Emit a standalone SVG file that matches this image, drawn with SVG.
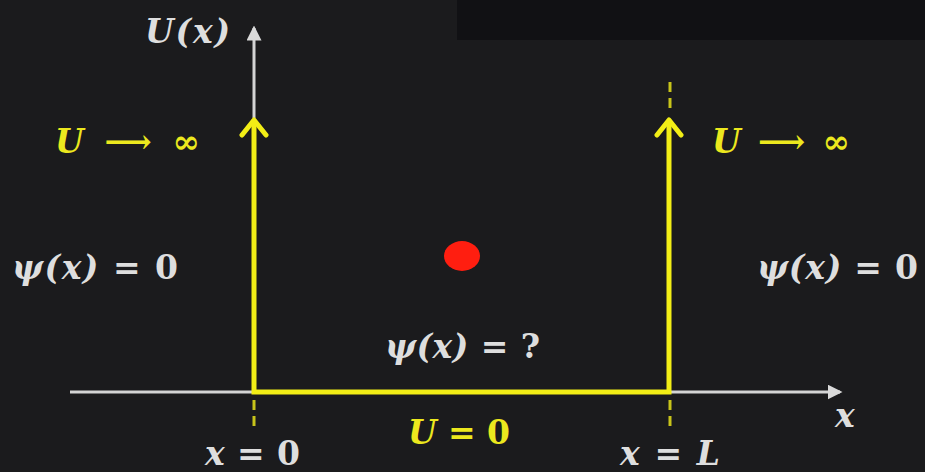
<svg xmlns="http://www.w3.org/2000/svg" width="925" height="472" viewBox="0 0 925 472">
<defs>
<style>
.t{font-family:"DejaVu Serif","Liberation Serif",serif;font-style:italic;font-weight:bold;font-size:33px;fill:#dedede}
.n{font-style:normal}
.y{fill:#ece81e}
.ax{stroke:#d4d4d4;stroke-width:3;fill:none}
.wall{stroke:#f2ee16;stroke-width:5;fill:none}
.dash{stroke:#c8c41a;stroke-width:3;stroke-dasharray:10 6;fill:none}
</style>
<marker id="wa" viewBox="0 0 12 12" refX="10" refY="6" markerWidth="5" markerHeight="5" orient="auto" markerUnits="strokeWidth"><path d="M0,0 L12,6 L0,12 Z" fill="#dadada"/></marker>
</defs>
<rect width="925" height="472" fill="#1b1b1d"/>
<rect x="457" y="0" width="468" height="40" fill="#111114"/>
<g id="connectors">
<line class="ax" x1="254" y1="118" x2="254" y2="28" marker-end="url(#wa)"/>
<line class="ax" x1="70" y1="392" x2="840" y2="392" marker-end="url(#wa)"/>
<line class="dash" x1="254" y1="400" x2="254" y2="426"/>
<line class="dash" x1="670" y1="400" x2="670" y2="426"/>
<line class="dash" x1="670" y1="82" x2="670" y2="112"/>
<path class="wall" d="M254,120 L254,392 L669,392 L669,120"/>
<path class="wall" stroke-linecap="round" stroke-linejoin="round" d="M242,135 L254,120 L266,135 M657,135 L669,120 L681,135"/>
</g>
<g id="particle"><ellipse cx="462" cy="256" rx="18" ry="15" fill="#ff1e10"/></g>
<g id="labels">
<text class="t" x="145" y="43" textLength="85">U(x)</text>
<text class="t y" x="55" y="153" textLength="145">U <tspan class="n">⟶ ∞</tspan></text>
<text class="t y" x="712" y="153" textLength="138">U <tspan class="n">⟶ ∞</tspan></text>
<text class="t" x="12" y="279" textLength="166">ψ(x) <tspan class="n">= 0</tspan></text>
<text class="t" x="757" y="279" textLength="161">ψ(x) <tspan class="n">= 0</tspan></text>
<text class="t" x="385" y="358" textLength="155">ψ(x) <tspan class="n">= ?</tspan></text>
<text class="t y" x="408" y="444" textLength="102">U <tspan class="n">= 0</tspan></text>
<text class="t" x="205" y="465" textLength="95">x <tspan class="n">= 0</tspan></text>
<text class="t" x="620" y="465" textLength="100">x <tspan class="n">= </tspan>L</text>
<text class="t" x="835" y="427">x</text>
</g>
</svg>
